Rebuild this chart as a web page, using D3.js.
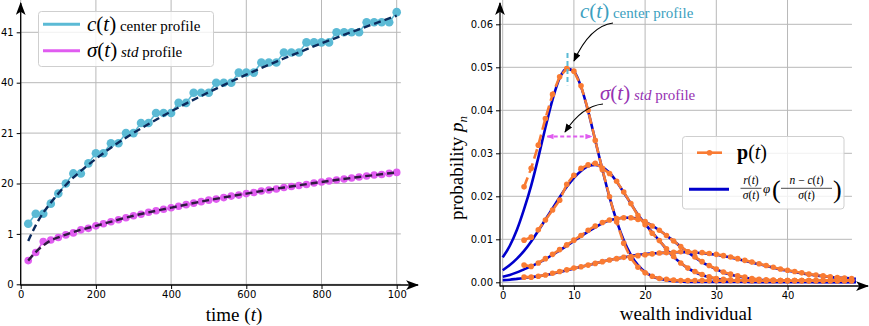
<!DOCTYPE html>
<html>
<head>
<meta charset="utf-8">
<script src="https://cdn.jsdelivr.net/npm/d3@7"></script>
<style>
    body { margin: 0; background: #fff; }
    svg { display: block; }
    text.serif, .serif text, .serif tspan { font-family: "Liberation Serif", "DejaVu Serif", serif; }
</style>
</head>
<body>
<svg id="chart" width="869" height="326"></svg>
<script>
// ---------- left panel data: profiles over time ----------
var times = [20,40,60,80,100,120,140,160,180,200,220,240,260,280,300,320,340,360,380,400,
             420,440,460,480,500,520,540,560,580,600,620,640,660,680,700,720,740,760,780,800,
             820,840,860,880,900,920,940,960,980,1000];
var centerValues = [1.2,1.4,1.4,1.6,1.8,2.0,2.2,2.2,2.4,2.6,2.6,2.8,2.8,3.0,3.0,3.2,3.2,3.4,3.4,3.4,
                    3.6,3.6,3.8,3.8,3.8,4.0,4.0,4.0,4.2,4.2,4.2,4.4,4.4,4.4,4.6,4.6,4.6,4.8,4.8,4.8,
                    4.8,5.0,5.0,5.0,5.0,5.2,5.2,5.2,5.2,5.4];
var stdValues = [0.47,0.63,0.85,0.88,0.93,0.98,1.02,1.08,1.11,1.16,1.20,1.24,1.28,1.32,1.36,1.39,1.43,1.46,1.49,1.52,
                 1.55,1.58,1.61,1.64,1.67,1.69,1.72,1.75,1.77,1.80,1.82,1.85,1.87,1.89,1.92,1.94,1.96,1.98,2.01,2.03,
                 2.05,2.07,2.09,2.11,2.13,2.15,2.17,2.18,2.20,2.22];
var centerFitT = [20,40,60,80,100,120,160,200,240,280,340,400,500,600,700,800,900,1000];
var centerFit  = [0.86,1.17,1.42,1.62,1.80,1.97,2.25,2.49,2.71,2.91,3.18,3.43,3.81,4.16,4.48,4.78,5.06,5.33];
var stdFitT = [20,40,60,80,100,150,200,300,400,500,600,700,800,900,1000];
var stdFit  = [0.47,0.64,0.77,0.87,0.93,1.06,1.16,1.36,1.52,1.67,1.80,1.92,2.03,2.13,2.22];

var leftYTicks = [0,1,2,3,4,5];
var leftYLabels = ["0","1","20","21","40","41"];
var leftXTicks = [0,200,400,600,800,1000];
var leftXLabels = ["0","200","400","600","800","100"];

// ---------- right panel data: distributions ----------
var nOrange = [3,4,5,6,7,8,9,10,11,12,13,14,15,16,17,18,19,20,21,22,23,24,25,26,27,28,29,30,
               31,32,33,34,35,36,37,38,39,40,41,42,43,44,45,46,47,48,49];
var pOrange1 = [0.0222,0.0265,0.0319,0.0381,0.0437,0.0478,0.0497,0.0491,0.0457,0.0400,0.0330,0.0262,0.0199,0.0141,
                0.0091,0.0056,0.0035,0.0022,0.0014,0.0009,0.0007,0.0005,0.0004,0.0004,0.0004,0.0004,0.0004,0.0004,
                0.0004,0.0004,0.0004,0.0004,0.0004,0.0004,0.0004,0.0004,0.0004,0.0004,0.0004,0.0004,0.0004,0.0004,
                0.0004,0.0004,0.0004,0.0004,0.0004];
var pOrange2 = [0.0098,0.0105,0.0122,0.0145,0.0168,0.0191,0.0228,0.0249,0.0265,0.0273,0.0277,0.0265,0.0253,0.0235,
                0.0210,0.0183,0.0155,0.0134,0.0114,0.0097,0.0078,0.0060,0.0045,0.0033,0.0025,0.0018,0.0013,0.0009,
                0.0007,0.0006,0.0005,0.0004,0.0004,0.0004,0.0004,0.0004,0.0004,0.0004,0.0004,0.0004,0.0004,0.0004,
                0.0004,0.0004,0.0004,0.0004,0.0004];
var pOrange3 = [0.0040,0.0037,0.0045,0.0055,0.0065,0.0076,0.0087,0.0098,0.0109,0.0121,0.0131,0.0139,0.0145,0.0148,
                0.0150,0.0150,0.0146,0.0141,0.0131,0.0121,0.0109,0.0096,0.0083,0.0071,0.0059,0.0048,0.0039,0.0031,
                0.0024,0.0019,0.0015,0.0012,0.0009,0.0007,0.0006,0.0005,0.0004,0.0004,0.0004,0.0004,0.0004,0.0004,
                0.0004,0.0004,0.0004,0.0004,0.0004];
var pOrange4 = [0.0012,0.0012,0.0014,0.0017,0.0021,0.0025,0.0029,0.0033,0.0036,0.0040,0.0044,0.0048,0.0052,0.0055,
                0.0058,0.0060,0.0062,0.0064,0.0066,0.0068,0.0069,0.0070,0.0071,0.0071,0.0070,0.0069,0.0067,0.0065,
                0.0062,0.0059,0.0055,0.0051,0.0047,0.0043,0.0039,0.0035,0.0031,0.0028,0.0025,0.0022,0.0019,0.0017,
                0.0015,0.0013,0.0011,0.0010,0.0009];

var nBlue = [0,1,2,3,4,5,6,7,8,9,10,11,12,13,14,15,16,17,18,19,20,21,22,23,24,25,26,27,28,29,30,
             31,32,33,34,35,36,37,38,39,40,41,42,43,44,45,46,47,48,49,49.6];
var pBlue1 = [0.0058,0.0085,0.0122,0.0170,0.0225,0.0290,0.0360,0.0425,0.0475,0.0497,0.0490,0.0455,0.0398,0.0330,
              0.0262,0.0198,0.0143,0.0098,0.0064,0.0040,0.0024,0.0014,0.0008,0.0005,0.0003,0.0002,0.0001,0.0001,
              0.0001,0.0001,0.0001,0.0001,0.0001,0.0001,0.0001,0.0001,0.0001,0.0001,0.0001,0.0001,0.0001,0.0001,
              0.0001,0.0001,0.0001,0.0001,0.0001,0.0001,0.0001,0.0001,0.0001];
var pBlue2 = [0.0028,0.0040,0.0055,0.0073,0.0095,0.0120,0.0146,0.0172,0.0198,0.0222,0.0243,0.0259,0.0270,0.0273,
              0.0268,0.0255,0.0234,0.0209,0.0183,0.0157,0.0136,0.0116,0.0097,0.0077,0.0059,0.0045,0.0033,0.0024,
              0.0017,0.0012,0.0008,0.0006,0.0004,0.0003,0.0002,0.0001,0.0001,0.0001,0.0001,0.0001,0.0001,0.0001,
              0.0001,0.0001,0.0001,0.0001,0.0001,0.0001,0.0001,0.0001,0.0001];
var pBlue3 = [0.0013,0.0017,0.0023,0.0030,0.0037,0.0045,0.0054,0.0064,0.0074,0.0085,0.0096,0.0107,0.0118,0.0128,
              0.0137,0.0144,0.0148,0.0150,0.0150,0.0147,0.0141,0.0132,0.0121,0.0109,0.0096,0.0083,0.0070,0.0058,
              0.0047,0.0038,0.0030,0.0023,0.0018,0.0014,0.0011,0.0008,0.0006,0.0005,0.0004,0.0003,0.0003,0.0002,
              0.0002,0.0002,0.0001,0.0001,0.0001,0.0001,0.0001,0.0001,0.0001];
var pBlue4 = [0.0005,0.0006,0.0008,0.0010,0.0012,0.0014,0.0017,0.0020,0.0024,0.0028,0.0032,0.0036,0.0040,0.0044,
              0.0048,0.0052,0.0055,0.0058,0.0061,0.0064,0.0066,0.0067,0.0068,0.0069,0.0070,0.0070,0.0070,0.0069,
              0.0068,0.0066,0.0064,0.0061,0.0058,0.0054,0.0050,0.0046,0.0042,0.0038,0.0034,0.0030,0.0027,0.0024,
              0.0021,0.0018,0.0016,0.0014,0.0012,0.0011,0.0010,0.0009,0.0008];

var rightXTicks = [0,10,20,30,40];
var rightYTicks = [0,0.01,0.02,0.03,0.04,0.05,0.06];
var peakCenter = 9.1;           // c(t) marker on the first curve
var stdSpan = [6.25, 12.5];     // sigma(t) arrow ends
var stdLevel = 0.0339;

var cColor = "#5bbad5", sColor = "#e05cf0";
var orange = "#f97b33", blue = "#0000cc", grid = "#b8b8b8";
var serifFont = "Liberation Serif, DejaVu Serif, serif";

var svg = d3.select("#chart");
var defs = svg.append("defs");

// stealth arrow for the axes
defs.append("marker").attr("id", "axisArrow")
    .attr("viewBox", "0 0 12 9").attr("refX", 11).attr("refY", 4.5)
    .attr("markerWidth", 13).attr("markerHeight", 10)
    .attr("markerUnits", "userSpaceOnUse").attr("orient", "auto")
    .append("path").attr("d", "M0,0 L12,4.5 L0,9 L3,4.5 Z").attr("fill", "#000");
defs.append("marker").attr("id", "blackHead")
    .attr("viewBox", "0 0 10 8").attr("refX", 9).attr("refY", 4)
    .attr("markerWidth", 9).attr("markerHeight", 7)
    .attr("markerUnits", "userSpaceOnUse").attr("orient", "auto")
    .append("path").attr("d", "M0,0 L10,4 L0,8 Z").attr("fill", "#000");
defs.append("marker").attr("id", "pinkHead")
    .attr("viewBox", "0 0 10 8").attr("refX", 9).attr("refY", 4)
    .attr("markerWidth", 7).attr("markerHeight", 6)
    .attr("markerUnits", "userSpaceOnUse").attr("orient", "auto-start-reverse")
    .append("path").attr("d", "M0,0 L10,4 L0,8 Z").attr("fill", sColor);

function mathText(sel, parts) {
    // parts: [text, italic?, extra attrs]
    sel.attr("font-family", serifFont);
    parts.forEach(function (p) {
        var t = sel.append("tspan").text(p[0]).attr("font-family", serifFont);
        if (p[1]) t.attr("font-style", "italic");
        if (p[2]) Object.keys(p[2]).forEach(function (k) { t.attr(k, p[2][k]); });
    });
    return sel;
}

// ================= LEFT PANEL =================
var xL = d3.scaleLinear().domain([0, 1000]).range([20.7, 396.7]);
var yL = d3.scaleLinear().domain([0, 5]).range([284.3, 32.3]);
var gL = svg.append("g");

gL.append("g").selectAll("line").data(leftYTicks).join("line")
    .attr("x1", xL(0)).attr("x2", xL(1011))
    .attr("y1", d => yL(d)).attr("y2", d => yL(d))
    .attr("stroke", grid).attr("stroke-width", 1);
gL.append("g").selectAll("line").data(leftXTicks).join("line")
    .attr("x1", d => xL(d)).attr("x2", d => xL(d))
    .attr("y1", 285).attr("y2", 0)
    .attr("stroke", grid).attr("stroke-width", 1);

var lineL = d3.line().x((d, i) => xL(times[i])).y(d => yL(d));
var fitLine = d3.line().curve(d3.curveMonotoneX);

// c(t) series
gL.append("path").datum(centerValues).attr("d", lineL)
    .attr("fill", "none").attr("stroke", cColor).attr("stroke-width", 1.5);
gL.append("g").selectAll("circle").data(centerValues).join("circle")
    .attr("cx", (d, i) => xL(times[i])).attr("cy", d => yL(d))
    .attr("r", 4.3).attr("fill", cColor);
gL.append("path")
    .attr("d", fitLine(centerFit.map((d, i) => [xL(centerFitT[i]), yL(d)])))
    .attr("fill", "none").attr("stroke", "#0b2a5c").attr("stroke-width", 2.4)
    .attr("stroke-dasharray", "7,4");

// sigma(t) series
gL.append("path").datum(stdValues).attr("d", lineL)
    .attr("fill", "none").attr("stroke", sColor).attr("stroke-width", 1.5);
gL.append("g").selectAll("circle").data(stdValues).join("circle")
    .attr("cx", (d, i) => xL(times[i])).attr("cy", d => yL(d))
    .attr("r", 3.8).attr("fill", sColor);
gL.append("path")
    .attr("d", fitLine(stdFit.map((d, i) => [xL(stdFitT[i]), yL(d)])))
    .attr("fill", "none").attr("stroke", "#2e1a40").attr("stroke-width", 2.4)
    .attr("stroke-dasharray", "7,4");

// axes
var axL = gL.append("g").attr("transform", "translate(" + xL(0) + ",0)")
    .call(d3.axisLeft(yL).tickValues(leftYTicks).tickFormat((d, i) => leftYLabels[i]).tickSize(4).tickPadding(3));
var axB = gL.append("g").attr("transform", "translate(0,285)")
    .call(d3.axisBottom(xL).tickValues(leftXTicks).tickFormat((d, i) => leftXLabels[i]).tickSize(4).tickPadding(2));
[axL, axB].forEach(function (a) {
    a.select(".domain").remove();
    a.attr("font-family", "DejaVu Sans, sans-serif").attr("font-size", 10);
});
gL.append("line").attr("x1", xL(0)).attr("x2", xL(0)).attr("y1", 285.5).attr("y2", 3)
    .attr("stroke", "#000").attr("stroke-width", 1.3).attr("marker-end", "url(#axisArrow)");
gL.append("line").attr("x1", xL(0)).attr("x2", 418).attr("y1", 285).attr("y2", 285)
    .attr("stroke", "#000").attr("stroke-width", 1.3).attr("marker-end", "url(#axisArrow)");

mathText(gL.append("text").attr("x", 234).attr("y", 321)
    .attr("text-anchor", "middle").attr("font-size", 19),
    [["time ("], ["t", true], [")"]]);

// left legend
var legL = gL.append("g");
legL.append("rect").attr("x", 38.5).attr("y", 11.5).attr("width", 175).attr("height", 55).attr("rx", 3)
    .attr("fill", "#fff").attr("fill-opacity", 0.8).attr("stroke", "#cfcfcf");
legL.append("line").attr("x1", 43).attr("x2", 80).attr("y1", 24.3).attr("y2", 24.3)
    .attr("stroke", cColor).attr("stroke-width", 3);
legL.append("line").attr("x1", 43).attr("x2", 80).attr("y1", 50.7).attr("y2", 50.7)
    .attr("stroke", sColor).attr("stroke-width", 3);
mathText(legL.append("text").attr("x", 87).attr("y", 30.5).attr("font-size", 21),
    [["c", true], ["("], ["t", true], [")"], [" center profile", false, {"font-size": 15}]]);
mathText(legL.append("text").attr("x", 87).attr("y", 56.5).attr("font-size", 21),
    [["σ", true], ["("], ["t", true], [")"], [" std", true, {"font-size": 15}], [" profile", false, {"font-size": 15}]]);

// ================= RIGHT PANEL =================
var xR = d3.scaleLinear().domain([0, 49]).range([502.7, 851.6]);
var yR = d3.scaleLinear().domain([0, 0.06]).range([282.3, 24.3]);
var gR = svg.append("g");

gR.append("g").selectAll("line").data(rightYTicks).join("line")
    .attr("x1", 500).attr("x2", xR(49.05))
    .attr("y1", d => yR(d)).attr("y2", d => yR(d))
    .attr("stroke", grid).attr("stroke-width", 1);
gR.append("g").selectAll("line").data(rightXTicks).join("line")
    .attr("x1", d => xR(d)).attr("x2", d => xR(d))
    .attr("y1", 286).attr("y2", 0)
    .attr("stroke", grid).attr("stroke-width", 1);

var blueLine = d3.line().curve(d3.curveMonotoneX).x((d, i) => xR(nBlue[i])).y(d => yR(d));
var orangeLine = d3.line().x((d, i) => xR(nOrange[i])).y(d => yR(d));

[pBlue1, pBlue2, pBlue3, pBlue4].forEach(function (s) {
    gR.append("path").datum(s).attr("d", blueLine)
        .attr("fill", "none").attr("stroke", blue).attr("stroke-width", 2.6);
});
[pOrange1, pOrange2, pOrange3, pOrange4].forEach(function (s) {
    gR.append("path").datum(s).attr("d", orangeLine)
        .attr("fill", "none").attr("stroke", orange).attr("stroke-width", 2.6)
        .attr("stroke-dasharray", "10,5");
    gR.append("g").selectAll("circle").data(s).join("circle")
        .attr("cx", (d, i) => xR(nOrange[i])).attr("cy", d => yR(d))
        .attr("r", 2.8).attr("fill", orange);
});

var axRL = gR.append("g").attr("transform", "translate(500,0)")
    .call(d3.axisLeft(yR).tickValues(rightYTicks).tickFormat(d3.format(".2f")).tickSize(4).tickPadding(3));
var axRB = gR.append("g").attr("transform", "translate(0,286)")
    .call(d3.axisBottom(xR).tickValues(rightXTicks).tickSize(4).tickPadding(2));
[axRL, axRB].forEach(function (a) {
    a.select(".domain").remove();
    a.attr("font-family", "DejaVu Sans, sans-serif").attr("font-size", 10);
});
gR.append("line").attr("x1", 500).attr("x2", 500).attr("y1", 286.5).attr("y2", 3)
    .attr("stroke", "#000").attr("stroke-width", 1.3).attr("marker-end", "url(#axisArrow)");
gR.append("line").attr("x1", 500).attr("x2", 868).attr("y1", 286).attr("y2", 286)
    .attr("stroke", "#000").attr("stroke-width", 1.3).attr("marker-end", "url(#axisArrow)");

mathText(gR.append("text").attr("x", 686).attr("y", 320)
    .attr("text-anchor", "middle").attr("font-size", 19), [["wealth individual"]]);
mathText(gR.append("text").attr("transform", "translate(463,168) rotate(-90)")
    .attr("text-anchor", "middle").attr("font-size", 19),
    [["probability  "], ["p", true], ["n", true, {"font-size": 13, "dy": 4}]]);

// c(t) and sigma(t) markers on the tallest curve
gR.append("line").attr("x1", xR(peakCenter)).attr("x2", xR(peakCenter))
    .attr("y1", yR(0.0533)).attr("y2", yR(0.0458))
    .attr("stroke", cColor).attr("stroke-width", 2).attr("stroke-dasharray", "5,3");
gR.append("line").attr("x1", xR(stdSpan[0])).attr("x2", xR(stdSpan[1]))
    .attr("y1", yR(stdLevel)).attr("y2", yR(stdLevel))
    .attr("stroke", sColor).attr("stroke-width", 2).attr("stroke-dasharray", "4,2.5")
    .attr("marker-start", "url(#pinkHead)").attr("marker-end", "url(#pinkHead)");

// annotations
mathText(gR.append("text").attr("x", 580).attr("y", 18).attr("font-size", 21).attr("fill", "#3c9fc0"),
    [["c", true], ["("], ["t", true], [")"], [" center profile", false, {"font-size": 15}]]);
mathText(gR.append("text").attr("x", 600).attr("y", 100).attr("font-size", 21).attr("fill", "#9632b2"),
    [["σ", true], ["("], ["t", true], [")"], [" std", true, {"font-size": 15}], [" profile", false, {"font-size": 15}]]);
gR.append("path").attr("d", "M613,23 Q590,26 574,61")
    .attr("fill", "none").attr("stroke", "#000").attr("stroke-width", 1.2).attr("marker-end", "url(#blackHead)");
gR.append("path").attr("d", "M603,104 Q582,106 565,132")
    .attr("fill", "none").attr("stroke", "#000").attr("stroke-width", 1.2).attr("marker-end", "url(#blackHead)");

// right legend
var legR = gR.append("g");
legR.append("rect").attr("x", 682.5).attr("y", 136.5).attr("width", 161.5).attr("height", 72.5).attr("rx", 3)
    .attr("fill", "#fff").attr("fill-opacity", 0.8).attr("stroke", "#cfcfcf");
legR.append("line").attr("x1", 697).attr("x2", 722).attr("y1", 152.7).attr("y2", 152.7)
    .attr("stroke", orange).attr("stroke-width", 2.6);
legR.append("circle").attr("cx", 709.5).attr("cy", 152.7).attr("r", 2.8).attr("fill", orange);
mathText(legR.append("text").attr("x", 737).attr("y", 158.5).attr("font-size", 20),
    [["p", false, {"font-weight": "bold"}], ["("], ["t", true], [")"]]);
legR.append("line").attr("x1", 689).attr("x2", 729).attr("y1", 189.3).attr("y2", 189.3)
    .attr("stroke", blue).attr("stroke-width", 3);

var fr = legR.append("g").attr("font-size", 11.5);
mathText(fr.append("text").attr("x", 751).attr("y", 184).attr("text-anchor", "middle"),
    [["r", true], ["("], ["t", true], [")"]]);
fr.append("line").attr("x1", 740.5).attr("x2", 761.5).attr("y1", 188.3).attr("y2", 188.3)
    .attr("stroke", "#000").attr("stroke-width", 0.7);
mathText(fr.append("text").attr("x", 751).attr("y", 199).attr("text-anchor", "middle"),
    [["σ", true], ["("], ["t", true], [")"]]);
mathText(fr.append("text").attr("x", 763).attr("y", 192.5).attr("font-size", 13), [["φ", true]]);
mathText(fr.append("text").attr("x", 772).attr("y", 198).attr("font-size", 26), [["("]]);
mathText(fr.append("text").attr("x", 806.5).attr("y", 184).attr("text-anchor", "middle"),
    [["n", true], [" − "], ["c", true], ["("], ["t", true], [")"]]);
fr.append("line").attr("x1", 781).attr("x2", 832).attr("y1", 188.3).attr("y2", 188.3)
    .attr("stroke", "#000").attr("stroke-width", 0.7);
mathText(fr.append("text").attr("x", 806.5).attr("y", 199).attr("text-anchor", "middle"),
    [["σ", true], ["("], ["t", true], [")"]]);
mathText(fr.append("text").attr("x", 833).attr("y", 198).attr("font-size", 26), [[")"]]);
</script>
</body>
</html>
